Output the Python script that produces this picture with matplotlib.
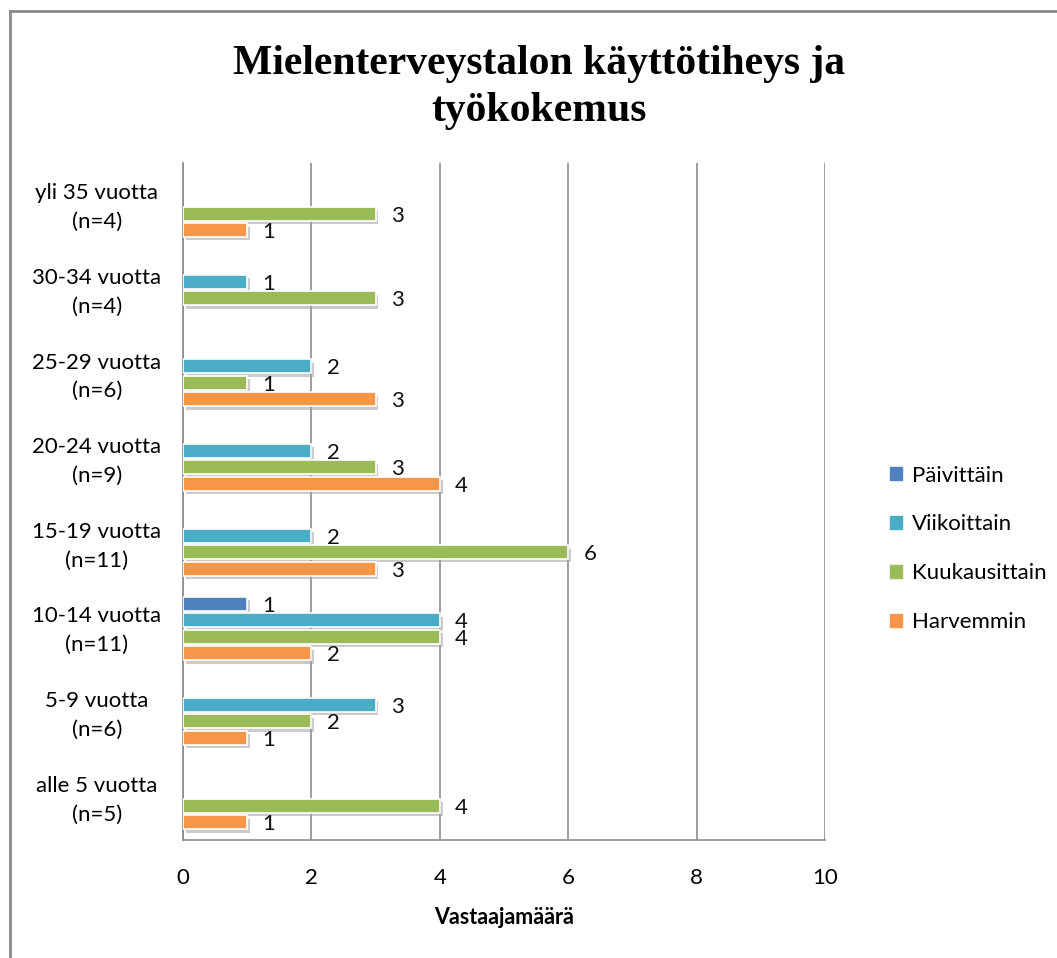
import numpy as np
import matplotlib
matplotlib.use("Agg")
import matplotlib.pyplot as plt
import matplotlib.patheffects as pe
from matplotlib.lines import Line2D
from matplotlib.transforms import ScaledTranslation

# ryhmät alhaalta ylös
groups = ["alle 5 vuotta\n(n=5)", "5-9 vuotta\n(n=6)", "10-14 vuotta\n(n=11)",
          "15-19 vuotta\n(n=11)", "20-24 vuotta\n(n=9)", "25-29 vuotta\n(n=6)",
          "30-34 vuotta\n(n=4)", "yli 35 vuotta\n(n=4)"]
series = ["Päivittäin", "Viikoittain", "Kuukausittain", "Harvemmin"]
paivittain = [0, 0, 1, 0, 0, 0, 0, 0]
viikoittain = [0, 3, 4, 2, 2, 2, 1, 0]
kuukausittain = [4, 2, 4, 6, 3, 1, 3, 3]
harvemmin = [1, 1, 2, 3, 4, 3, 0, 1]
colors = ["#4F81BD", "#4BACC6", "#9BBB59", "#F79646"]

plt.rcParams['font.family'] = ['Lato', 'DejaVu Sans']
fs = 16

fig = plt.figure(figsize=(10.57, 9.58), dpi=100)
ax = fig.add_axes([0.1731, 0.1232, 0.6074, 0.7067])

y = np.arange(len(groups))
w = 0.195
offsets = [1.5 * w, 0.5 * w, -0.5 * w, -1.5 * w]
shadow = [pe.SimplePatchShadow(offset=(2, -2.5), shadow_rgbFace="#a0a0a0", alpha=0.55), pe.Normal()]

for vals, off, col, name in zip([paivittain, viikoittain, kuukausittain, harvemmin],
                                offsets, colors, series):
    vals = np.array(vals, dtype=float)
    bars = ax.barh(y + off, vals, height=0.165, color=col, edgecolor="white",
                   linewidth=1.2, label=name, zorder=3)
    for b, v in zip(bars, vals):
        if v == 0:
            b.set_visible(False)
            continue
        b.set_path_effects(shadow)
        ax.annotate(f"{int(v)}", (v, b.get_y() + b.get_height() / 2),
                    xytext=(11, -1.5), textcoords="offset points",
                    ha="left", va="center", fontsize=fs, color="#111111", zorder=4)

ax.set_xlim(0, 10)
ax.set_ylim(-0.5, len(groups) - 0.5)
ax.set_xticks(range(0, 11, 2))
ax.set_yticks(y)
ax.set_yticklabels(groups, multialignment="center", ha="center", linespacing=1.55)
ax.tick_params(axis="y", length=0, pad=62, labelsize=fs)
ax.tick_params(axis="x", length=0, pad=20, labelsize=fs)
for lbl in ax.get_yticklabels():
    lbl.set_transform(lbl.get_transform() + ScaledTranslation(0, 0.04, fig.dpi_scale_trans))
ax.xaxis.grid(True, color="#8c8c8c", linewidth=1.2, zorder=0)
ax.set_axisbelow(True)
for s in ["top", "right"]:
    ax.spines[s].set_visible(False)
for s in ["left", "bottom"]:
    ax.spines[s].set_color("#8c8c8c")
    ax.spines[s].set_linewidth(1.2)

ax.set_xlabel("Vastaajamäärä", fontsize=15.5, fontweight="bold", labelpad=14)

fig.suptitle("Mielenterveystalon käyttötiheys ja\ntyökokemus", x=0.51, y=0.953,
             fontsize=30, fontweight="bold", family="Liberation Serif", linespacing=1.3)

handles = [plt.Rectangle((0, 0), 1, 1, color=c) for c in colors]
fig.legend(handles, series, loc="center left", bbox_to_anchor=(0.823, 0.427),
           frameon=False, fontsize=fs, handlelength=0.55, handleheight=0.55,
           handletextpad=0.45, labelspacing=1.3)

# ulkokehys (vain ylä- ja vasen reuna näkyvät)
fig.add_artist(Line2D([10 / 1057, 1], [1 - 11 / 958, 1 - 11 / 958], color="#8a8a8a", lw=2))
fig.add_artist(Line2D([10 / 1057, 10 / 1057], [0, 1 - 11 / 958], color="#8a8a8a", lw=2))

fig.savefig("out.png", dpi=100)
